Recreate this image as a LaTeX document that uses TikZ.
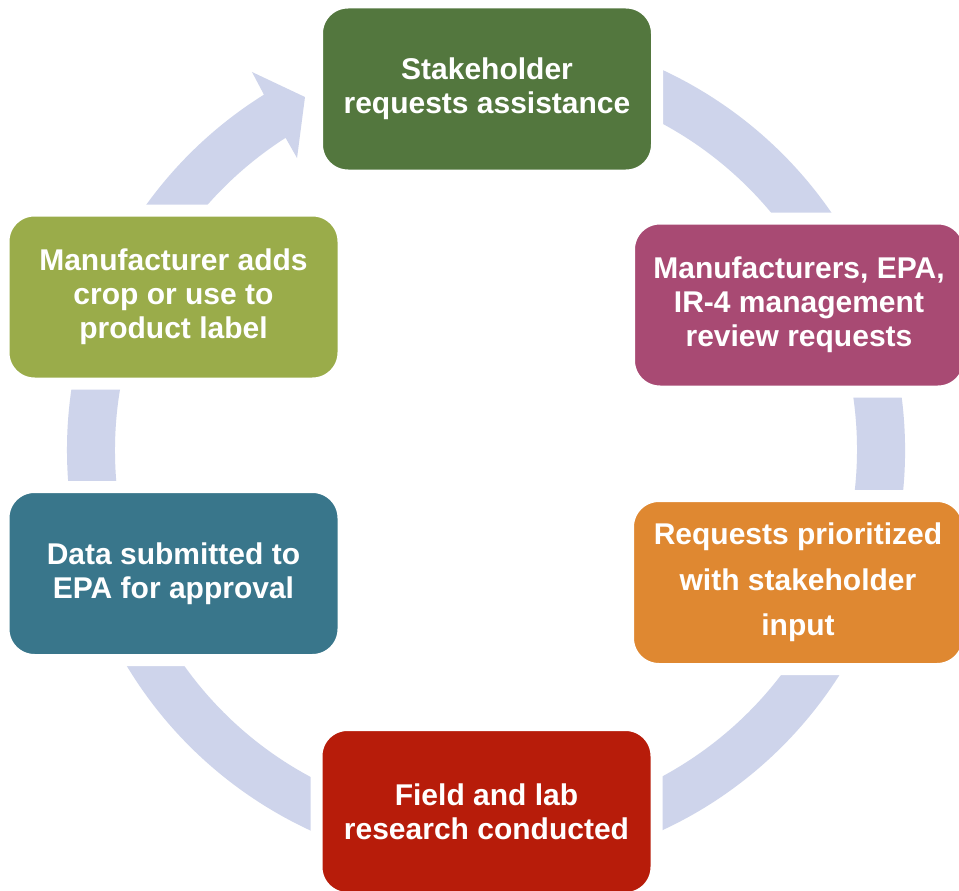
\documentclass[tikz,border=0pt]{standalone}
\usepackage{fontspec}
\setmainfont{Liberation Sans}
\definecolor{ringc}{HTML}{CED4EB}
\definecolor{cgreen}{HTML}{53773E}
\definecolor{cmagenta}{HTML}{A84A73}
\definecolor{corange}{HTML}{DF8831}
\definecolor{cred}{HTML}{B71C0A}
\definecolor{cteal}{HTML}{39768B}
\definecolor{colive}{HTML}{9AAC4A}
\begin{document}
\begin{tikzpicture}[x=1pt,y=-1pt,
  stagebox/.style={rectangle, rounded corners=31pt, minimum width=340pt, minimum height=173pt,
    inner sep=0pt, draw=white, line width=12pt, text=white, align=center,
    font=\bfseries\fontsize{30pt}{34pt}\selectfont},
  loosebox/.style={stagebox, font=\bfseries\fontsize{30pt}{45.5pt}\selectfont}]
\useasboundingbox (0,0) rectangle (959,891);
\fill[white] (0,0) rectangle (959,891);
\begin{scope}[shift={(486,450)}]
  \fill[ringc] (-100:419) arc[start angle=-100, end angle=238, radius=419]
    -- (238.24:444.6) -- (242.85:396.7) -- (237.09:347.8) -- (237.3:371)
    arc[start angle=237.3, end angle=-100, radius=371] -- cycle;
\end{scope}
\node[stagebox, fill=cgreen] (s1) at (487,89) {Stakeholder\\requests assistance};
\node[stagebox, fill=cmagenta] (s2) at (799,305) {Manufacturers, EPA,\\IR-4 management\\review requests};
\node[loosebox, fill=corange] (s3) at (798,582.5) {Requests prioritized\\with stakeholder\\input};
\node[stagebox, fill=cred] (s4) at (486.5,811.5) {Field and lab\\research conducted};
\node[stagebox, fill=cteal] (s5) at (173.5,573.5) {Data submitted to\\EPA for approval};
\node[stagebox, fill=colive] (s6) at (173.5,297) {Manufacturer adds\\crop or use to\\product label};
\end{tikzpicture}
\end{document}
